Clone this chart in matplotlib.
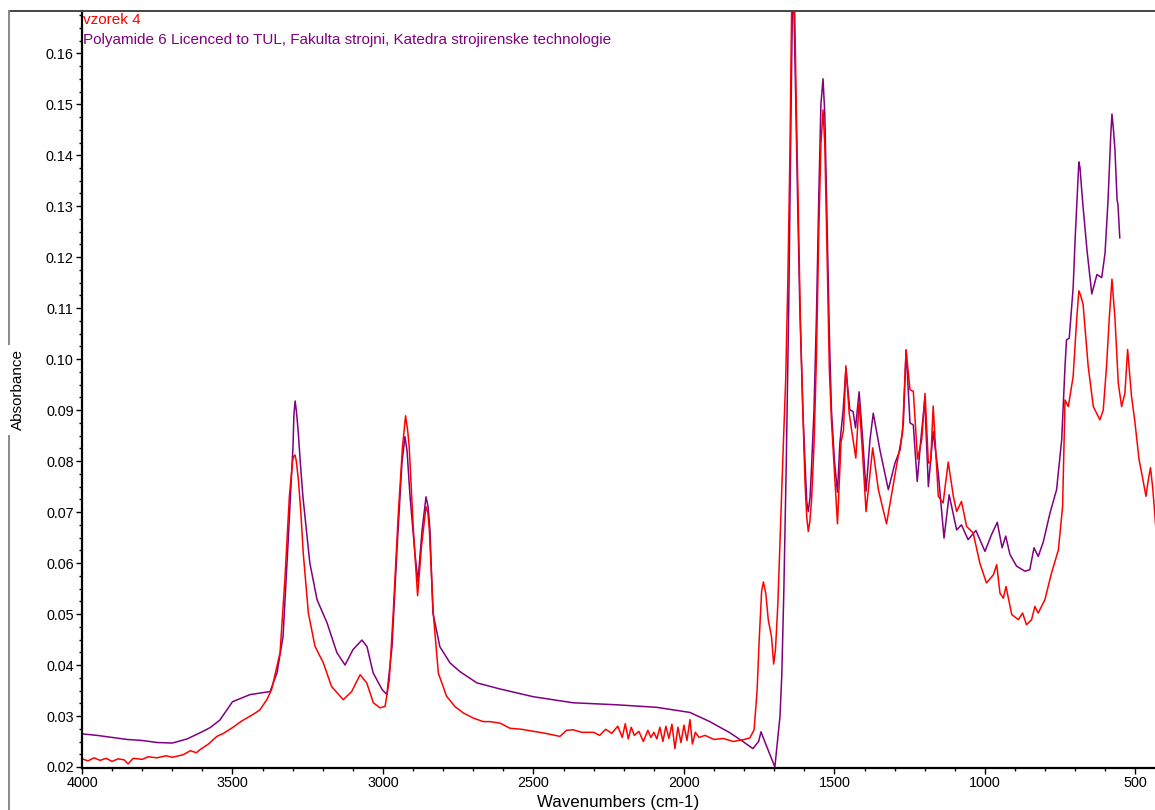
import matplotlib
matplotlib.use("Agg")
import matplotlib.pyplot as plt
from matplotlib.lines import Line2D
from matplotlib.ticker import MultipleLocator, FormatStrFormatter

plt.rcParams["font.family"] = ["Liberation Sans", "DejaVu Sans"]

# Polyamide 6 reference spectrum (purple)
ref_wn = [4000, 3950, 3900, 3850, 3800, 3750, 3700, 3651, 3608, 3575, 3542, 3500,
          3442, 3375, 3352, 3332, 3316, 3305, 3299, 3296, 3292, 3288, 3282, 3275, 3266, 3243, 3219, 3186,
          3153, 3126, 3100, 3070, 3053, 3033, 3003, 2987, 2970, 2953, 2937, 2927,
          2920, 2910, 2894, 2884, 2870, 2857, 2850, 2844, 2834, 2811, 2777, 2744, 2688, 2611,
          2502, 2369, 2223, 2090, 1980, 1914, 1847, 1804, 1771, 1752, 1744, 1735,
          1721, 1698, 1681, 1675, 1668, 1660, 1652, 1645, 1640, 1636, 1630, 1622, 1615,
          1605, 1598, 1592, 1587, 1581, 1576, 1568, 1560, 1552, 1545, 1538, 1532, 1525,
          1517, 1510, 1500, 1490, 1482, 1471, 1462, 1449, 1438,
          1430, 1418, 1406, 1395, 1382, 1371, 1349, 1321, 1299, 1282, 1271, 1262,
          1249, 1238, 1225, 1213, 1200, 1188, 1172, 1155, 1136, 1119, 1094, 1078,
          1056, 1030, 1000, 978, 959, 943, 931, 917, 895, 867, 851, 837, 823, 806,
          784, 762, 745, 734, 729, 720, 707, 700, 694, 688, 684, 679, 674, 661, 645, 628, 612,
          601, 591, 582, 578, 573, 568, 561, 558, 552]
ref_abs = [0.0265, 0.0262, 0.0258, 0.0254, 0.0252, 0.0248, 0.0247, 0.0255, 0.0267, 0.0277, 0.0292, 0.0328,
           0.0342, 0.0348, 0.0385, 0.0456, 0.0632, 0.0760, 0.0828, 0.0890, 0.0918, 0.0900, 0.0861, 0.0800, 0.0730, 0.0600, 0.0528, 0.0483,
           0.0424, 0.0400, 0.0430, 0.0449, 0.0436, 0.0385, 0.0352, 0.0342, 0.0436, 0.0632, 0.0797, 0.0848,
           0.0820, 0.0730, 0.0620, 0.0564, 0.0665, 0.0730, 0.0710, 0.0665, 0.0502, 0.0436, 0.0404, 0.0387, 0.0365, 0.0353,
           0.0338, 0.0326, 0.0322, 0.0317, 0.0307, 0.0289, 0.0267, 0.0250, 0.0236, 0.0250, 0.0269, 0.0255,
           0.0234, 0.0200, 0.0299, 0.0380, 0.0550, 0.0800, 0.1100, 0.1450, 0.1680, 0.1720, 0.1550, 0.1300, 0.1100,
           0.0900, 0.0800, 0.0720, 0.0701, 0.0730, 0.0790, 0.0900, 0.1080, 0.1320, 0.1500, 0.1550, 0.1480, 0.1280,
           0.1050, 0.0900, 0.0800, 0.0739, 0.0835, 0.0901, 0.0982, 0.0901, 0.0897,
           0.0865, 0.0936, 0.0842, 0.0741, 0.0842, 0.0894, 0.0822, 0.0744, 0.0796, 0.0822, 0.0875, 0.1018,
           0.0875, 0.0871, 0.0760, 0.0842, 0.0920, 0.0750, 0.0858, 0.0776, 0.0649, 0.0734, 0.0665, 0.0675,
           0.0646, 0.0664, 0.0623, 0.0656, 0.0680, 0.0630, 0.0653, 0.0617, 0.0594, 0.0584, 0.0587, 0.0630, 0.0613, 0.0642,
           0.0698, 0.0744, 0.0842, 0.0986, 0.1038, 0.1041, 0.1140, 0.1240, 0.1312, 0.1387, 0.1375, 0.1335, 0.1299, 0.1214, 0.1128, 0.1166, 0.1160,
           0.1208, 0.1312, 0.1440, 0.1481, 0.1450, 0.1410, 0.1312, 0.1303, 0.1238]

# vzorek 4 (red)
sample_wn = [4000, 3980, 3960, 3940, 3920, 3900, 3880, 3860, 3847, 3830, 3800, 3780,
             3751, 3720, 3700, 3664, 3640, 3620, 3608, 3580, 3552, 3530, 3498, 3470,
             3432, 3409, 3386, 3370, 3342, 3326, 3311, 3300, 3296, 3292, 3288, 3281, 3273, 3265, 3248,
             3226, 3198, 3171, 3132, 3104, 3076, 3054, 3032, 3010, 2993, 2979, 2966,
             2949, 2935, 2925, 2918, 2913, 2899, 2885, 2872, 2857, 2851, 2846, 2833, 2816, 2789,
             2760, 2733, 2700, 2667, 2645, 2611, 2578, 2540, 2501, 2460, 2412, 2390,
             2368, 2340, 2300, 2280, 2260, 2240, 2220, 2205, 2195, 2185, 2175, 2165,
             2150, 2135, 2120, 2110, 2100, 2090, 2080, 2070, 2060, 2050, 2040, 2030,
             2020, 2010, 2000, 1990, 1980, 1972, 1962, 1950, 1930, 1900, 1870, 1836,
             1800, 1781, 1767, 1757, 1750, 1742, 1736, 1728, 1720, 1709, 1702, 1696,
             1688, 1680, 1670, 1662, 1655, 1648, 1642, 1638, 1633, 1627, 1620, 1613,
             1605, 1598, 1592, 1587, 1582, 1576, 1568, 1560, 1552, 1545, 1538, 1532,
             1525, 1517, 1510, 1502, 1490, 1478, 1470, 1462, 1451,
             1443, 1429, 1418, 1406, 1395, 1373, 1354, 1327, 1294, 1274, 1262, 1249,
             1238, 1224, 1210, 1199, 1188, 1180, 1172, 1155, 1139, 1122, 1105, 1094,
             1078, 1061, 1039, 1017, 995, 972, 961, 950, 939, 930, 911, 889, 875, 862,
             845, 834, 823, 801, 779, 756, 742, 734, 723, 707, 695, 688, 682, 674, 657, 640,
             618, 607, 596, 587, 578, 568, 557, 546, 535, 526, 513, 502, 488, 474, 465,
             457, 450, 443, 435, 430]
sample_abs = [0.0216, 0.0212, 0.0218, 0.0213, 0.0217, 0.0211, 0.0216, 0.0214, 0.0206, 0.0217, 0.0215, 0.0220,
              0.0218, 0.0222, 0.0219, 0.0224, 0.0232, 0.0228, 0.0234, 0.0245, 0.0260, 0.0266, 0.0278, 0.0290,
              0.0303, 0.0312, 0.0332, 0.0352, 0.0424, 0.0567, 0.0731, 0.0802, 0.0810, 0.0812, 0.0800, 0.0763, 0.0700, 0.0620, 0.0502,
              0.0437, 0.0404, 0.0358, 0.0332, 0.0348, 0.0381, 0.0365, 0.0326, 0.0316, 0.0319, 0.0371, 0.0502,
              0.0698, 0.0829, 0.0889, 0.0860, 0.0829, 0.0665, 0.0536, 0.0633, 0.0711, 0.0700, 0.0665, 0.0502, 0.0384, 0.0339,
              0.0318, 0.0306, 0.0296, 0.0289, 0.0289, 0.0286, 0.0276, 0.0274, 0.0270, 0.0266, 0.0260, 0.0272,
              0.0273, 0.0268, 0.0268, 0.0262, 0.0274, 0.0266, 0.0280, 0.0258, 0.0285, 0.0255, 0.0278, 0.0262,
              0.0270, 0.0250, 0.0272, 0.0258, 0.0268, 0.0255, 0.0278, 0.0250, 0.0280, 0.0256, 0.0284, 0.0236,
              0.0278, 0.0248, 0.0282, 0.0252, 0.0293, 0.0245, 0.0268, 0.0258, 0.0262, 0.0254, 0.0256, 0.0250,
              0.0254, 0.0257, 0.0273, 0.0350, 0.0450, 0.0545, 0.0563, 0.0540, 0.0489, 0.0455, 0.0402, 0.0430,
              0.0520, 0.0660, 0.0830, 0.0960, 0.1150, 0.1400, 0.1700, 0.1880, 0.1720, 0.1500, 0.1280, 0.1070,
              0.0900, 0.0760, 0.0690, 0.0662, 0.0680, 0.0724, 0.0830, 0.1000, 0.1250, 0.1420, 0.1489, 0.1420,
              0.1220, 0.0980, 0.0880, 0.0800, 0.0677, 0.0838, 0.0860, 0.0987, 0.0894,
              0.0861, 0.0806, 0.0917, 0.0809, 0.0701, 0.0826, 0.0744, 0.0677, 0.0790, 0.0855, 0.1018, 0.0940,
              0.0937, 0.0804, 0.0842, 0.0933, 0.0796, 0.0800, 0.0908, 0.0731, 0.0718, 0.0798, 0.0731, 0.0701,
              0.0721, 0.0672, 0.0659, 0.0600, 0.0561, 0.0577, 0.0597, 0.0541, 0.0531, 0.0554, 0.0499, 0.0489, 0.0502, 0.0479,
              0.0489, 0.0515, 0.0502, 0.0528, 0.0580, 0.0626, 0.0711, 0.0920, 0.0907, 0.0966, 0.1080, 0.1134, 0.1125, 0.1108, 0.0986, 0.0907,
              0.0881, 0.0900, 0.0986, 0.1080, 0.1157, 0.1080, 0.0953, 0.0907, 0.0933, 0.1019, 0.0927, 0.0878, 0.0803, 0.0760, 0.0731,
              0.0764, 0.0787, 0.0750, 0.0691, 0.0650]

W, H = 1155, 810
fig = plt.figure(figsize=(W / 100, H / 100), dpi=100)
left, right, top, bottom = 82, 1155, 11, 767.5
ax = fig.add_axes([left / W, (H - bottom) / H, (right - left) / W, (bottom - top) / H])

ax.plot(ref_wn, ref_abs, color="#800080", lw=1.1)
ax.plot(sample_wn, sample_abs, color="#ff0000", lw=1.1)

ax.set_xlim(4000, 435)
ax.set_ylim(0.0199, 0.1683)

ax.xaxis.set_major_locator(MultipleLocator(500))
ax.xaxis.set_minor_locator(MultipleLocator(100))
ax.yaxis.set_major_locator(MultipleLocator(0.01))
ax.yaxis.set_minor_locator(MultipleLocator(0.0025))
ax.yaxis.set_major_formatter(FormatStrFormatter("%.2f"))
ax.xaxis.set_major_formatter(FormatStrFormatter("%d"))
ax.tick_params(which="major", direction="out", length=4, width=1, labelsize=10.4, pad=2)
ax.tick_params(which="minor", direction="out", length=2.5, width=1)

for s in ["top", "right"]:
    ax.spines[s].set_visible(False)
for s in ["left", "bottom"]:
    ax.spines[s].set_linewidth(1.6)
    ax.spines[s].set_color("black")

# outer frame lines
fig.add_artist(Line2D([9 / W, 1], [1 - 11 / H, 1 - 11 / H], color="#444444", lw=1.4,
                      transform=fig.transFigure))
fig.add_artist(Line2D([9 / W, 9 / W], [0, 1 - 11 / H], color="#888888", lw=1.4,
                      transform=fig.transFigure))

fig.text(83 / W, 1 - 20 / H, "vzorek 4", color="#ff0000", fontsize=11, va="center", ha="left")
fig.text(83 / W, 1 - 40 / H,
         "Polyamide 6 Licenced to TUL, Fakulta strojni, Katedra strojirenske technologie",
         color="#800080", fontsize=11, va="center", ha="left")

fig.text(18 / W, 1 - 390 / H, "Absorbance", rotation=90, fontsize=11, va="center", ha="center",
         bbox=dict(facecolor="white", edgecolor="none", pad=3))
fig.text(618 / W, 1 - 802 / H, "Wavenumbers (cm-1)", fontsize=12.2, va="center", ha="center")

fig.savefig("out.png", dpi=100)
